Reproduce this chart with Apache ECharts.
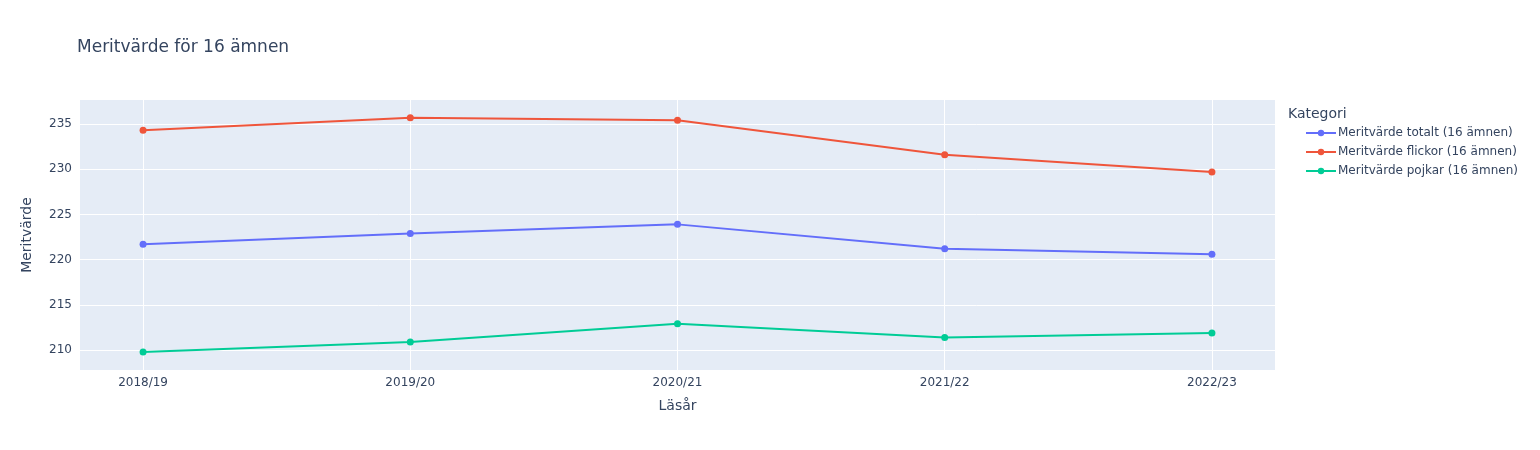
<!DOCTYPE html>
<html>
<head>
<meta charset="utf-8">
<script src="https://cdn.jsdelivr.net/npm/echarts@6/dist/echarts.min.js"></script>
<style>html,body{margin:0;padding:0;background:#fff}#c{width:1540px;height:450px}</style>
</head>
<body>
<div id="c"></div>
<script>
const categories = ['2018/19', '2019/20', '2020/21', '2021/22', '2022/23'];
const seriesNames = ['Meritvärde totalt (16 ämnen)', 'Meritvärde flickor (16 ämnen)', 'Meritvärde pojkar (16 ämnen)'];
const totalt = [221.7, 222.9, 223.9, 221.2, 220.6];
const flickor = [234.3, 235.7, 235.4, 231.6, 229.7];
const pojkar = [209.8, 210.9, 212.9, 211.4, 211.9];
const yTicks = [210, 215, 220, 225, 230, 235];

const colors = ['#636efa', '#EF553B', '#00cc96'];
const values = [totalt, flickor, pojkar];
const xIdx = categories.map((c, i) => i);
const font = '"DejaVu Sans", Verdana, sans-serif';
const txt = '#34445f';

const chart = echarts.init(document.getElementById('c'), null, {renderer: 'canvas'});
chart.setOption({
  animation: false,
  textStyle: {fontFamily: font},
  title: [
    {text: 'Meritvärde för 16 ämnen', left: 72, top: 34, textStyle: {fontFamily: font, fontSize: 17, fontWeight: 'normal', color: txt}},
    {text: 'Kategori', left: 1283, top: 102, textStyle: {fontFamily: font, fontSize: 14, fontWeight: 'normal', color: txt}}
  ],
  legend: {
    orient: 'vertical', left: 1300, top: 121, itemGap: 5, itemWidth: 30, itemHeight: 8,
    textStyle: {fontFamily: font, fontSize: 12, color: txt, padding: [0, 0, 0, -3], lineHeight: 14},
    data: seriesNames
  },
  grid: {left: 80, right: 265, top: 100, bottom: 80, show: true, backgroundColor: '#E5ECF6', borderWidth: 0},
  xAxis: {
    type: 'value', min: -0.236, max: 4.236,
    name: 'Läsår', nameLocation: 'middle', nameGap: 29,
    nameTextStyle: {fontFamily: font, fontSize: 14, color: txt},
    axisLine: {show: false},
    axisTick: {show: false, customValues: xIdx},
    axisLabel: {customValues: xIdx, formatter: v => categories[Math.round(v)], fontFamily: font, fontSize: 12, color: txt, margin: 7},
    splitLine: {show: true, lineStyle: {color: '#fff', width: 1}}
  },
  yAxis: {
    type: 'value', min: 207.8, max: 237.65,
    name: 'Meritvärde', nameLocation: 'middle', nameGap: 46,
    nameTextStyle: {fontFamily: font, fontSize: 14, color: txt},
    axisLine: {show: false},
    axisTick: {show: false, customValues: yTicks},
    axisLabel: {customValues: yTicks, fontFamily: font, fontSize: 12, color: txt, margin: 8},
    splitLine: {show: true, lineStyle: {color: '#fff', width: 1}}
  },
  series: seriesNames.map((n, s) => ({
    name: n, type: 'line',
    data: values[s].map((v, i) => [xIdx[i], v]),
    symbol: 'circle', symbolSize: 7,
    lineStyle: {width: 2, color: colors[s]},
    itemStyle: {color: colors[s]},
    color: colors[s]
  }))
});
</script>
</body>
</html>
